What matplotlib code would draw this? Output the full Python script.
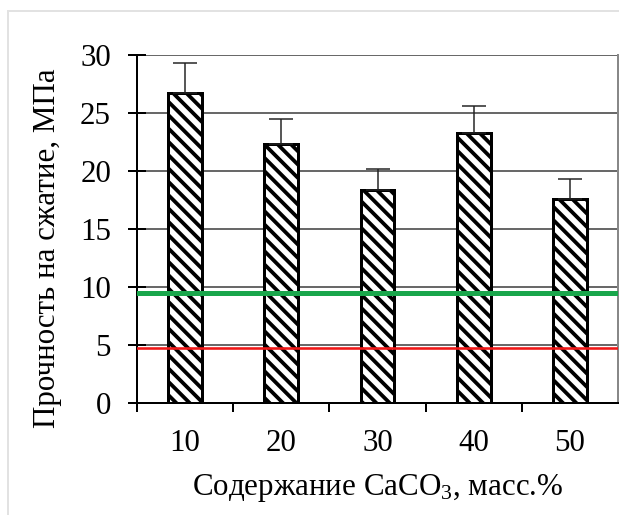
import numpy as np
import matplotlib
matplotlib.use("Agg")
from matplotlib import pyplot as plt
from matplotlib.lines import Line2D

# CaCO3 content, mass %
caco3 = ["10", "20", "30", "40", "50"]
strength = [26.7, 22.3, 18.4, 23.3, 17.6]
strength_err = [2.6, 2.2, 1.8, 2.3, 1.7]
# reference levels, MPa
level_green = 9.5
level_red = 4.7

DPI = 120
W, H = 619, 515

def pt(px):
    # pixels -> points at the output dpi
    return px * 72.0 / DPI

plt.rcParams['font.family'] = ['Liberation Serif', 'DejaVu Serif']
plt.rcParams['font.size'] = pt(31)
plt.rcParams['mathtext.fontset'] = 'custom'
plt.rcParams['mathtext.rm'] = 'Liberation Serif'
plt.rcParams['mathtext.it'] = 'Liberation Serif:italic'
plt.rcParams['hatch.linewidth'] = pt(3.8)

fig = plt.figure(figsize=(W / DPI, H / DPI), dpi=DPI)
ax = fig.add_axes([137 / W, 1 - 403 / H, 481 / W, 348 / H])

x = np.arange(1, len(caco3) + 1)
ax.bar(x, strength, width=0.35, color='white', edgecolor='black',
       linewidth=pt(3), hatch='\\\\\\', zorder=3)
ax.errorbar(x, strength, yerr=[np.zeros(len(x)), strength_err], fmt='none',
            ecolor='#222222', elinewidth=pt(1.5), capsize=pt(12),
            capthick=pt(1.5), zorder=4)

ax.axhline(level_green, color='#19a64b', linewidth=pt(5), zorder=5)
ax.axhline(level_red, color='#f01818', linewidth=pt(2.6), zorder=5)

ax.set_xlim(0.5, len(caco3) + 0.5)
ax.set_ylim(0, 30)
ax.set_yticks(np.arange(0, 31, 5))
ax.yaxis.grid(True, color='#444444', linewidth=pt(1.6), zorder=0)
ax.set_axisbelow(True)

ax.set_xticks(x)
ax.set_xticklabels(caco3)
ax.set_xticks(np.arange(0.5, len(caco3) + 0.5, 1), minor=True)
ax.tick_params(axis='x', which='major', length=0, pad=pt(26))
ax.tick_params(axis='x', which='minor', direction='out', length=pt(9), width=pt(2))
ax.tick_params(axis='y', direction='inout', length=pt(18), width=pt(2), pad=pt(17))

for s in ['left', 'bottom']:
    ax.spines[s].set_linewidth(pt(2))
    ax.spines[s].set_color('black')
ax.spines['top'].set_visible(False)
ax.spines['right'].set_color('#888888')
ax.spines['right'].set_linewidth(pt(2))

ax.set_ylabel("Прочность на сжатие, МПа", labelpad=pt(18))
ax.yaxis.label.set_y(0.445)
ax.set_xlabel("Содержание CaCO$_\\mathrm{3}$, масс.%", labelpad=pt(14))

# light frame around the figure
fig.add_artist(Line2D([8 / W, 8 / W], [0, 1 - 11 / H], transform=fig.transFigure,
                      color='#e2e2e2', linewidth=pt(2)))
fig.add_artist(Line2D([8 / W, 1], [1 - 11 / H, 1 - 11 / H], transform=fig.transFigure,
                      color='#e2e2e2', linewidth=pt(2)))

fig.savefig("out.png", dpi=DPI)
